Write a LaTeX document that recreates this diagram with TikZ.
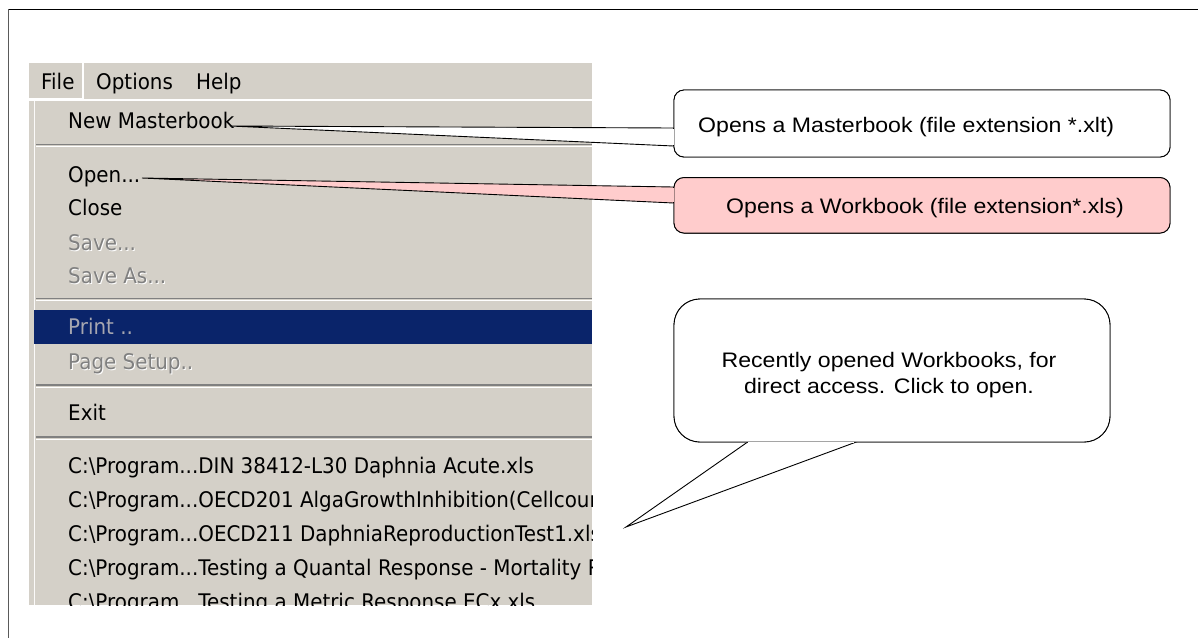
\documentclass[tikz,border=0pt]{standalone}
\usepackage{fontspec}
\usetikzlibrary{calc}
\setmainfont{Liberation Sans}
\newfontfamily\menufont[FakeStretch=0.925]{DejaVu Sans}
\newfontfamily\callfont[FakeStretch=1.1]{Liberation Sans}
\definecolor{menugray}{RGB}{212,208,200}
\definecolor{navy}{RGB}{10,36,106}
\definecolor{sepgray}{RGB}{128,128,128}
\definecolor{pinkfill}{RGB}{255,204,204}
\definecolor{distext}{RGB}{128,128,128}
\definecolor{printtext}{RGB}{166,166,176}
\definecolor{framegray}{RGB}{90,90,90}
\tikzset{
  mtext/.style={anchor=base west, inner sep=0pt, font=\menufont\fontsize{21.5}{25}\selectfont, text=black},
  distxt/.style={mtext, text=distext},
  disshadow/.style={mtext, text=white},
  prtxt/.style={mtext, text=printtext},
  sepdark/.style={draw=sepgray, line width=1.2pt},
  seplight/.style={draw=white, line width=1.2pt},
  callbox/.style={draw=black, line width=0.9pt, inner sep=0pt, rounded corners=10pt},
  wedge/.style={draw=black, line width=0.9pt, line join=miter},
  ctext/.style={inner sep=0pt, font=\callfont\fontsize{21}{25}\selectfont, text=black}
}
\begin{document}
\begin{tikzpicture}[x=1pt,y=-1pt]
\useasboundingbox (0,0) rectangle (1198,638);
\fill[white] (0,0) rectangle (1198,638);
% frame
\draw[black, line width=1.5pt] (8,9.5) -- (1198,9.5);
\draw[framegray, line width=1.5pt] (8.5,9) -- (8.5,638);

% screenshot of menu
\begin{scope}
\clip (29,63) rectangle (592,605);
\fill[menugray] (29,63) rectangle (592,605);
% File button
\draw[white, line width=1.2pt] (29,98.5) -- (83,98.5) -- (83,63);
\draw[white, line width=1.5pt] (29,100) -- (592,100);
\draw[white!90!menugray, line width=1pt] (34.5,101) -- (34.5,605);
\node[mtext] (file) at (41,89) {File};
\node[mtext] (options) at (96,89) {Options};
\node[mtext] (help) at (196,89) {Help};
% items
\node[mtext] (newmb) at (68,128) {New Masterbook};
\draw[sepdark] (36,144.5) -- (592,144.5);
\draw[seplight] (36,146.7) -- (592,146.7);
\node[mtext] (open) at (68,182) {Open...};
\node[mtext] (close) at (68,215) {Close};
\node[disshadow] (saves) at (69,251) {Save...};
\node[distxt] (save) at (68,250) {Save...};
\node[disshadow] (saveass) at (69,284) {Save As...};
\node[distxt] (saveas) at (68,283) {Save As...};
\draw[sepdark] (36,298.5) -- (592,298.5);
\draw[seplight] (36,300.7) -- (592,300.7);
\fill[navy] (34,310) rectangle (592,344);
\node[prtxt] (print) at (68,334) {Print ..};
\node[disshadow] (pages) at (69,370) {Page Setup..};
\node[distxt] (page) at (68,369) {Page Setup..};
\draw[sepdark] (36,385) -- (592,385);
\draw[seplight] (36,387.2) -- (592,387.2);
\node[mtext] (exit) at (68,420) {Exit};
\draw[sepdark] (36,437) -- (592,437);
\draw[seplight] (36,439.2) -- (592,439.2);
\node[mtext] (r1) at (68,473) {C:\textbackslash Program...DIN 38412-L30 Daphnia Acute.xls};
\node[mtext] (r2) at (68,507) {C:\textbackslash Program...OECD201 AlgaGrowthInhibition(Cellcount};
\node[mtext] (r3) at (68,541) {C:\textbackslash Program...OECD211 DaphniaReproductionTest1.xls};
\node[mtext] (r4) at (68,575) {C:\textbackslash Program...Testing a Quantal Response - Mortality R};
\node[mtext] (r5) at (68,609) {C:\textbackslash Program...Testing a Metric Response ECx.xls};
\end{scope}

% callout 1
\coordinate (tip1) at (230,126);
\node[callbox, minimum width=496pt, minimum height=67pt] (c1) at (922,123.5) {};
\coordinate (a1) at ($(c1.west)+(0,4.5)$);
\coordinate (b1) at ($(c1.west)+(0,22.5)$);
\filldraw[wedge, fill=white] (tip1) -- (a1) -- (b1) -- cycle;
\node[callbox, fill=white, minimum width=496pt, minimum height=67pt] at (c1) {};
\draw[white, line width=1.3pt] ($(a1)+(0,0.9)$) -- ($(b1)+(0,-0.9)$);
\node[ctext, anchor=base west] (l1) at (698,132) {Opens a Masterbook (file extension *.xlt)};

% callout 2
\coordinate (tip2) at (142,178);
\node[callbox, minimum width=496pt, minimum height=55.5pt] (c2) at (922,205.3) {};
\coordinate (a2) at ($(c2.west)+(0,-18.3)$);
\coordinate (b2) at ($(c2.west)+(0,-2.3)$);
\filldraw[wedge, fill=pinkfill] (tip2) -- (a2) -- (b2) -- cycle;
\node[callbox, fill=pinkfill, minimum width=496pt, minimum height=55.5pt] at (c2) {};
\draw[pinkfill, line width=1.3pt] ($(a2)+(0,0.9)$) -- ($(b2)+(0,-0.9)$);
\node[ctext, anchor=base west] (l2) at (726,213) {Opens a Workbook (file extension*.xls)};

% callout 3
\coordinate (tip3) at (626,527);
\node[callbox, rounded corners=26pt, minimum width=436pt, minimum height=143pt] (c3) at (892,370.5) {};
\coordinate (a3) at ($(c3.south)+(-145,0)$);
\coordinate (b3) at ($(c3.south)+(-37,0)$);
\filldraw[wedge, fill=white] (tip3) -- (a3) -- (b3) -- cycle;
\node[callbox, fill=white, rounded corners=26pt, minimum width=436pt, minimum height=143pt] at (c3) {};
\draw[white, line width=1.3pt] ($(a3)+(0.9,0)$) -- ($(b3)+(-0.9,0)$);
\node[ctext, anchor=base] (l3a) at (889,367) {Recently opened Workbooks, for};
\node[ctext, anchor=base] (l3b) at (889,393) {direct access. Click to open.};
\end{tikzpicture}
\end{document}
